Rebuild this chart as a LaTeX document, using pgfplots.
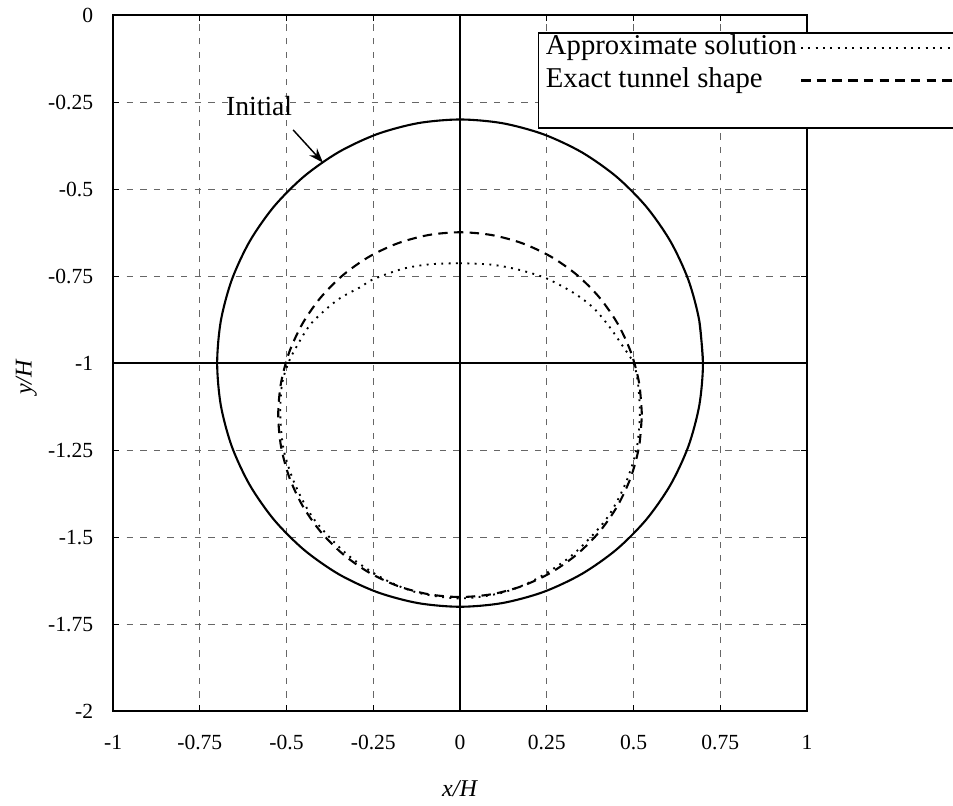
\documentclass[border=0pt]{standalone}
\usepackage{fontspec}
\setmainfont{Liberation Serif}
\usepackage{pgfplots}
\pgfplotsset{compat=1.18}
\usetikzlibrary{arrows.meta}

\begin{document}
\begin{tikzpicture}
\begin{axis}[
  name=ax,
  scale only axis,
  width=331.5pt, height=332.5pt,
  xmin=-1, xmax=1, ymin=-2, ymax=0,
  xtick={-1,-0.75,-0.5,-0.25,0,0.25,0.5,0.75,1},
  ytick={-2,-1.75,-1.5,-1.25,-1,-0.75,-0.5,-0.25,0},
  grid=major,
  major grid style={dash pattern=on 3pt off 3.5pt, line width=0.45pt, black!60},
  axis line style={line width=1pt},
  tick style={black, line width=0.5pt},
  major tick length=3pt,
  tick align=inside,
  /pgf/number format/assume math mode=true,
  tick label style={font=\fontsize{10.3}{12}\selectfont},
  xticklabel style={yshift=-8pt},
  yticklabel style={xshift=-6pt},
  xlabel={\textit{x/H}}, ylabel={\textit{y/H}},
  label style={font=\fontsize{11.5}{13}\selectfont},
  x label style={at={(axis description cs:0.5,-0.111)}, anchor=center},
  y label style={at={(axis description cs:-0.125,0.48)}, anchor=center},
  legend cell align=left,
  legend plot pos=right,
  legend image code/.code={\draw[#1] (0pt,0pt) -- (67pt,0pt); \path (0pt,0pt) -- (85pt,0pt);},
  legend style={at={(0.612,0.9756)}, anchor=north west, draw=black, line width=0.8pt,
    inner xsep=3pt, inner ysep=0pt, row sep=1pt, column sep=1pt,
    font=\fontsize{13.7}{15}\selectfont,
    nodes={inner sep=0.5pt, text height=10pt, text depth=3.5pt}},
]
% reference lines
\addplot[black, line width=0.9pt, forget plot] coordinates {(0,-2) (0,0)};
\addplot[black, line width=0.9pt, forget plot] coordinates {(-1,-1) (1,-1)};

% initial circle
\addplot[black, line width=1pt, smooth, forget plot] coordinates {
(0.7,-1) (0.6894,-0.8785) (0.6578,-0.7606) (0.6062,-0.65) (0.5362,-0.55) (0.45,-0.4638)
(0.35,-0.3938) (0.2394,-0.3422) (0.1215,-0.3106) (0,-0.3) (-0.1215,-0.3106) (-0.2394,-0.3422)
(-0.35,-0.3938) (-0.45,-0.4638) (-0.5362,-0.55) (-0.6062,-0.65) (-0.6578,-0.7606) (-0.6894,-0.8785)
(-0.7,-1) (-0.6894,-1.1215) (-0.6578,-1.2394) (-0.6062,-1.35) (-0.5362,-1.45) (-0.45,-1.5362)
(-0.35,-1.6062) (-0.2394,-1.6578) (-0.1215,-1.6894) (0,-1.7) (0.1215,-1.6894) (0.2394,-1.6578)
(0.35,-1.6062) (0.45,-1.5362) (0.5362,-1.45) (0.6062,-1.35) (0.6578,-1.2394) (0.6894,-1.1215)
(0.7,-1) (0.6894,-0.8785)
};

% approximate solution
\addplot[black, line width=0.9pt, dash pattern=on 0.9pt off 2.6pt, smooth] coordinates {
(0,-0.713) (0.09,-0.717) (0.17,-0.732) (0.25,-0.757) (0.33,-0.800) (0.385,-0.842)
(0.43,-0.895) (0.47,-0.953) (0.50,-1.0) (0.513,-1.06) (0.518,-1.15) (0.508,-1.25)
(0.475,-1.35) (0.42,-1.45) (0.325,-1.55) (0.22,-1.62) (0.12,-1.66) (0,-1.676)
(-0.12,-1.66) (-0.22,-1.62) (-0.325,-1.55) (-0.42,-1.45) (-0.475,-1.35) (-0.508,-1.25)
(-0.518,-1.15) (-0.513,-1.06) (-0.495,-1.0) (-0.472,-0.954) (-0.428,-0.885) (-0.354,-0.819)
(-0.288,-0.782) (-0.25,-0.759) (-0.165,-0.729) (-0.086,-0.716) (0,-0.713)
};
\addlegendentry{Approximate solution}

% exact tunnel shape
\addplot[black, line width=1pt, dash pattern=on 4.5pt off 3pt, smooth] coordinates {
(0.524,-1.148) (0.516,-1.057) (0.4924,-0.9688) (0.4538,-0.886) (0.4014,-0.8112) (0.3368,-0.7466)
(0.262,-0.6942) (0.1792,-0.6556) (0.091,-0.632) (0,-0.624) (-0.091,-0.632) (-0.1792,-0.6556)
(-0.262,-0.6942) (-0.3368,-0.7466) (-0.4014,-0.8112) (-0.4538,-0.886) (-0.4924,-0.9688) (-0.516,-1.057)
(-0.524,-1.148) (-0.516,-1.239) (-0.4924,-1.3272) (-0.4538,-1.41) (-0.4014,-1.4848) (-0.3368,-1.5494)
(-0.262,-1.6018) (-0.1792,-1.6404) (-0.091,-1.664) (0,-1.672) (0.091,-1.664) (0.1792,-1.6404)
(0.262,-1.6018) (0.3368,-1.5494) (0.4014,-1.4848) (0.4538,-1.41) (0.4924,-1.3272) (0.516,-1.239)
(0.524,-1.148)
};
\addlegendentry{Exact tunnel shape}
\addlegendimage{empty legend}
\addlegendentry{}

\node[font=\fontsize{13.2}{15}\selectfont] at (axis cs:-0.579,-0.261) {Initial};
\draw[-{Stealth[length=7pt,width=5pt]}, line width=0.7pt] (axis cs:-0.481,-0.330) -- (axis cs:-0.395,-0.424);
\end{axis}
\pgfresetboundingbox
\path ([shift={(-54pt,-45pt)}]ax.south west) rectangle ([shift={(69.7pt,7.2pt)}]ax.north east);
\end{tikzpicture}
\end{document}
